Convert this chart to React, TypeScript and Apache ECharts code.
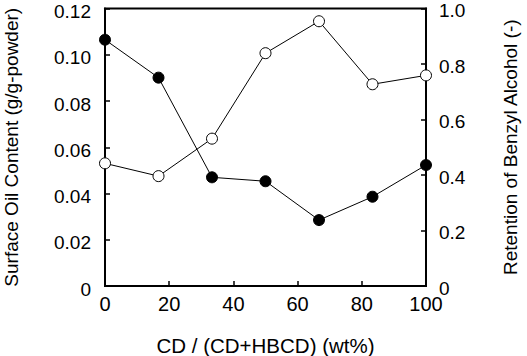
import React, { useEffect, useRef } from "react";
import * as echarts from "echarts";

const cdRatio = [0, 16.67, 33.33, 50, 66.67, 83.33, 100];
const surfaceOil = [0.1065, 0.0901, 0.047, 0.0453, 0.0285, 0.0386, 0.0523];
const retention = [0.442, 0.396, 0.531, 0.839, 0.954, 0.727, 0.759];

const FONT = "Liberation Sans, Arial, sans-serif";

export default function App() {
  const ref = useRef<HTMLDivElement>(null);
  useEffect(() => {
    if (!ref.current) return;
    const chart = echarts.init(ref.current, undefined, { renderer: "svg" });
    const axisLine = { show: true, lineStyle: { color: "#000", width: 2 } };
    const axisTick = { show: true, inside: true, length: 5, lineStyle: { color: "#000", width: 1.5 } };
    const label = { color: "#000", fontSize: 19, fontFamily: FONT };
    const nameStyle = { color: "#000", fontSize: 19, fontFamily: FONT };
    chart.setOption({
      animation: false,
      backgroundColor: "#fff",
      grid: {
        left: 105,
        right: 101,
        top: 8.5,
        bottom: 70,
        show: true,
        borderColor: "#000",
        borderWidth: 2,
        containLabel: false,
        outerBoundsMode: "none",
      },
      xAxis: {
        type: "value",
        min: 0,
        max: 100,
        interval: 20,
        name: "CD / (CD+HBCD) (wt%)",
        nameLocation: "middle",
        nameGap: 49,
        nameTextStyle: { ...nameStyle, fontSize: 20.5 },
        axisLine,
        axisTick,
        axisLabel: { ...label, fontSize: 20, margin: 8 },
        splitLine: { show: false },
      },
      yAxis: [
        {
          type: "value",
          position: "left",
          min: 0,
          max: 0.12,
          interval: 0.02,
          name: "Surface Oil Content (g/g-powder)",
          nameLocation: "middle",
          nameGap: 84,
          nameTextStyle: nameStyle,
          axisLine,
          axisTick,
          axisLabel: {
            ...label,
            margin: 14,
            verticalAlign: "top",
            lineHeight: 6,
            formatter: (v: number) => (v === 0 ? "0" : v.toFixed(2)),
          },
          splitLine: { show: false },
        },
        {
          type: "value",
          position: "right",
          min: 0,
          max: 1,
          interval: 0.2,
          name: "Retention of Benzyl Alcohol (-)",
          nameLocation: "middle",
          nameGap: 75,
          nameTextStyle: nameStyle,
          axisLine,
          axisTick,
          axisLabel: {
            ...label,
            margin: 13,
            verticalAlign: "top",
            lineHeight: 4,
            formatter: (v: number) => (v === 0 ? "0" : v.toFixed(1)),
          },
          splitLine: { show: false },
        },
      ],
      series: [
        {
          type: "line",
          yAxisIndex: 1,
          data: cdRatio.map((x, i) => [x, retention[i]]),
          symbol: "circle",
          symbolSize: 11,
          lineStyle: { color: "#000", width: 1 },
          itemStyle: { color: "#fff", borderColor: "#000", borderWidth: 1 },
          z: 3,
        },
        {
          type: "line",
          yAxisIndex: 0,
          data: cdRatio.map((x, i) => [x, surfaceOil[i]]),
          symbol: "circle",
          symbolSize: 11,
          lineStyle: { color: "#000", width: 1 },
          itemStyle: { color: "#000", borderColor: "#000", borderWidth: 1 },
          z: 4,
        },
      ],
    });
    return () => chart.dispose();
  }, []);
  return <div ref={ref} style={{ width: 527, height: 356, position: "absolute", left: 0, top: 0 }} />;
}
